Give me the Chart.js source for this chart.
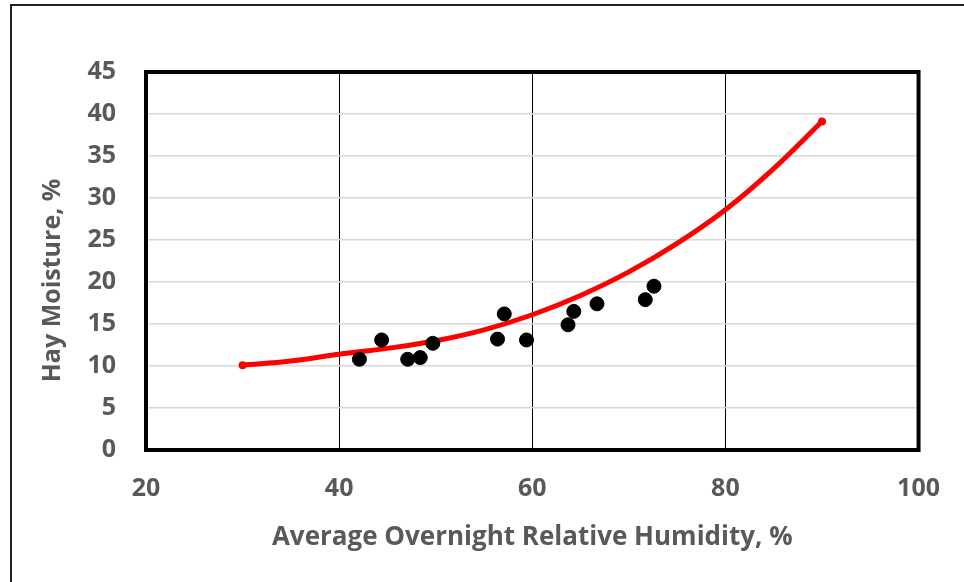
<!DOCTYPE html>
<html>
<head>
<meta charset="utf-8">
<script src="https://cdn.jsdelivr.net/npm/chart.js@4/dist/chart.umd.min.js"></script>
<style>
  html, body { margin: 0; padding: 0; background: #fff; }
  #wrap { width: 964px; height: 582px; }
</style>
</head>
<body>
<div id="wrap"><canvas id="hayChart" width="964" height="582"></canvas></div>
<script>
// measured points
const humidity = [42.1, 44.4, 47.1, 48.4, 49.7, 56.4, 57.1, 59.4, 63.7, 64.3, 66.7, 71.7, 72.6];
const moisture = [10.8, 13.1, 10.8, 11.0, 12.7, 13.2, 16.2, 13.1, 14.9, 16.5, 17.4, 17.9, 19.5];

// fitted curve
const curveX = [30, 35, 40, 45, 50, 55, 60, 65, 70, 75, 80, 85, 90];
const curveY = [10.1, 10.6, 11.4, 12.1, 13.0, 14.3, 16.1, 18.4, 21.2, 24.6, 28.6, 33.5, 39.1];

const xTicks = [20, 40, 60, 80, 100];
const yTicks = [0, 5, 10, 15, 20, 25, 30, 35, 40, 45];

const labelFont = "'Open Sans', sans-serif";
const grey = '#595959';

// plot border + outer frame
const framePlugin = {
  id: 'frame',
  afterDraw(chart) {
    const { ctx, chartArea: a } = chart;
    ctx.save();
    ctx.strokeStyle = '#000';
    ctx.lineWidth = 4;
    ctx.strokeRect(a.left, a.top, a.right - a.left, a.bottom - a.top);
    ctx.lineWidth = 2;
    ctx.strokeStyle = '#222';
    ctx.beginPath();
    ctx.moveTo(11, 582);
    ctx.lineTo(11, 5);
    ctx.lineTo(964, 5);
    ctx.stroke();
    ctx.restore();
  }
};

new Chart(document.getElementById('hayChart'), {
  type: 'scatter',
  data: {
    datasets: [
      {
        label: 'Measured',
        data: humidity.map((x, i) => ({ x, y: moisture[i] })),
        backgroundColor: '#000',
        borderColor: '#000',
        pointRadius: 7,
        pointHoverRadius: 7
      },
      {
        label: 'Fit',
        data: curveX.map((x, i) => ({ x, y: curveY[i] })),
        showLine: true,
        tension: 0.4,
        borderColor: '#ff0000',
        backgroundColor: '#ff0000',
        borderWidth: 5,
        pointBorderWidth: 0,
        pointRadius: ctx => (ctx.dataIndex === 0 || ctx.dataIndex === curveX.length - 1) ? 4 : 0
      }
    ]
  },
  options: {
    responsive: false,
    animation: false,
    layout: { padding: { top: 72, right: 44, left: 0, bottom: 0 } },
    plugins: { legend: { display: false }, tooltip: { enabled: false } },
    scales: {
      x: {
        min: 20, max: 100,
        afterFit: s => { s.height = 132; },
        afterBuildTicks: s => { s.ticks = xTicks.map(v => ({ value: v })); },
        grid: {
          drawTicks: false,
          color: ctx => (ctx.tick && (ctx.tick.value === 20 || ctx.tick.value === 100)) ? 'rgba(0,0,0,0)' : '#000',
          lineWidth: 1
        },
        border: { display: false },
        ticks: { padding: 24, color: grey, font: { family: labelFont, size: 25, weight: 'bold' } },
        title: {
          display: true,
          text: 'Average Overnight Relative Humidity, %',
          color: grey,
          font: { family: labelFont, size: 26, weight: 'bold' },
          padding: { top: 0, bottom: 29 }
        }
      },
      y: {
        min: 0, max: 45,
        afterFit: s => { s.width = 146; },
        afterBuildTicks: s => { s.ticks = yTicks.map(v => ({ value: v })); },
        grid: { drawTicks: false, color: '#d9d9d9', lineWidth: 1.5 },
        border: { display: false },
        ticks: { padding: 30, color: grey, font: { family: labelFont, size: 25, weight: 'bold' } },
        title: {
          display: true,
          text: 'Hay Moisture, %      ',
          color: grey,
          font: { family: labelFont, size: 25, weight: 'bold' },
          padding: { top: 38, bottom: 0 }
        }
      }
    }
  },
  plugins: [framePlugin]
});
</script>
</body>
</html>
